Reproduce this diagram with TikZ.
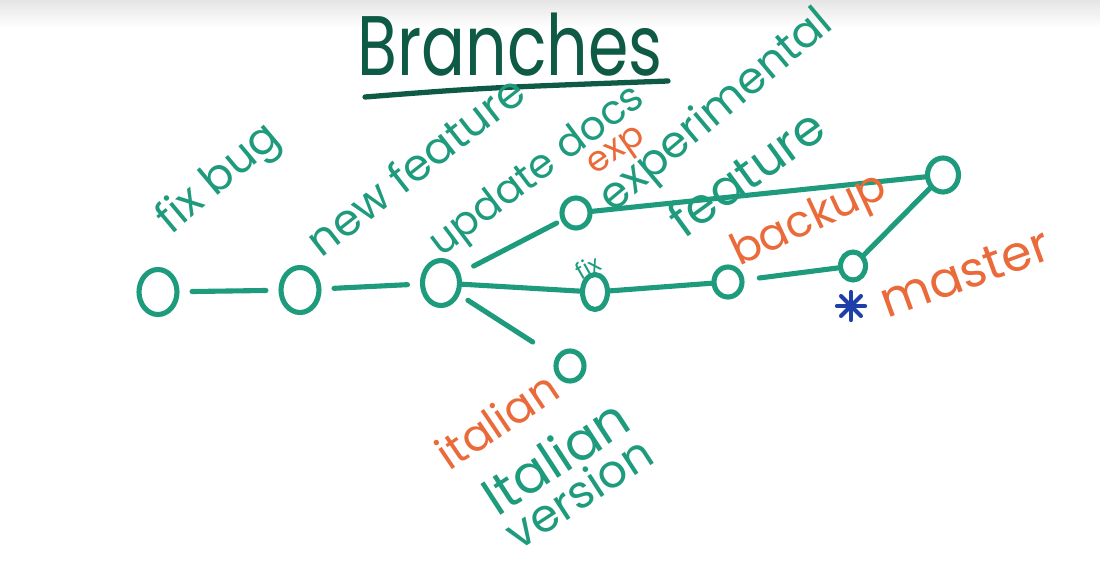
\documentclass[tikz,border=0pt]{standalone}
\usepackage{fontspec}
\setmainfont{Poppins}
\usetikzlibrary{shapes.geometric, positioning, calc}
\definecolor{verde}{HTML}{1E9A7C}
\definecolor{verdeosc}{HTML}{0E5A44}
\definecolor{naranja}{HTML}{EA6A3A}
\definecolor{azul}{HTML}{1E3FA8}

\begin{document}
\begin{tikzpicture}[x=0.02cm, y=-0.02cm,
    commit/.style={ellipse, draw=verde, line width=2.9pt, inner sep=0pt, minimum width=0.56cm, minimum height=0.6cm},
    rotulo/.style={text=verde, inner sep=0pt, font=\fontsize{25}{28}\selectfont},
    rama/.style={text=naranja, inner sep=0pt, font=\fontsize{25}{28}\selectfont},
    enlace/.style={draw=verde, line width=2.9pt, line cap=round},
    hueco/.style={shorten <=0.25cm, shorten >=0.25cm}]

    \useasboundingbox (0,0) rectangle (1100,561);
    \fill[white] (0,0) rectangle (1100,561);
    \shade[top color=black!10, bottom color=white] (0,0) rectangle (1100,28);

    % titulo
    \node[text=verdeosc, yscale=1.3, font=\fontsize{37}{40}\selectfont] (titulo) at (510,45) {Branches};
    \draw[verdeosc, line width=3pt, line cap=round] (365,97) .. controls (480,88) .. (668,81);

    % commits
    \node[commit, minimum width=0.76cm, minimum height=0.9cm] (c1) at (158,292) {};
    \node[commit, minimum width=0.76cm, minimum height=0.9cm] (c2) at (300,290) {};
    \node[commit, minimum width=0.74cm, minimum height=0.9cm] (c3) at (441,283) {};
    \node[commit, minimum width=0.5cm, minimum height=0.7cm] (c4) at (595,292) {};
    \node[commit] (c5) at (728,282) {};
    \node[commit, minimum width=0.5cm, minimum height=0.56cm] (c6) at (853,266) {};
    \node[commit, minimum width=0.62cm, minimum height=0.68cm] (c7) at (943,175) {};
    \node[commit] (c8) at (576,213) {};
    \node[commit] (c9) at (570,366) {};

    \draw[enlace, hueco] (c1) -- (c2);
    \draw[enlace, hueco] (c2) -- (c3);
    \draw[enlace, shorten <=0.3cm, shorten >=0.1cm] (c3) -- (c8);
    \draw[enlace] (c3) -- (c4);
    \draw[enlace, shorten <=0.2cm, shorten >=0.55cm] (c3) -- (c9);
    \draw[enlace] (c4) -- (c5);
    \draw[enlace, shorten <=0.3cm] (c5) -- (c6);
    \draw[enlace] (c6) -- (c7);
    \draw[enlace] (c8) -- (c7);

    % rotulos
    \node[rotulo, rotate=40] (fixbug) at (220,180) {fix bug};
    \node[rotulo, rotate=38] (newfeat) at (415,165) {new feature};
    \node[rotulo, rotate=37, font=\fontsize{23}{26}\selectfont] (docs) at (538,172) {update docs};
    \node[rama, rotate=35, font=\fontsize{20}{22}\selectfont] (exp) at (618,153) {exp};
    \node[rotulo, rotate=40] (experim) at (717,112) {experimental};
    \node[rotulo, rotate=36, font=\fontsize{28}{30}\selectfont] (feature) at (746,172) {feature};
    \node[rama, rotate=25] (backup) at (810,222) {backup};
    \node[rama, rotate=20, font=\fontsize{28}{30}\selectfont] (master) at (965,273) {master};
    \node[text=verde, rotate=30, inner sep=0pt, font=\fontsize{13}{14}\selectfont] (fix) at (588,267) {fix};
    \node[rama, rotate=34] (italian) at (497,420) {italian};
    \node[rotulo, rotate=33, align=center, font=\fontsize{26}{23}\selectfont] (italver) at (566,473)
        {{\fontsize{30}{23}\selectfont Italian}\\version};

    % asterisco
    \coordinate (ast) at (851,306);
    \foreach \a in {0,45,90,135}
        \draw[azul, line width=2.4pt, line cap=round] ($(ast)+(\a:14)$) -- ($(ast)+(\a+180:14)$);
\end{tikzpicture}
\end{document}
